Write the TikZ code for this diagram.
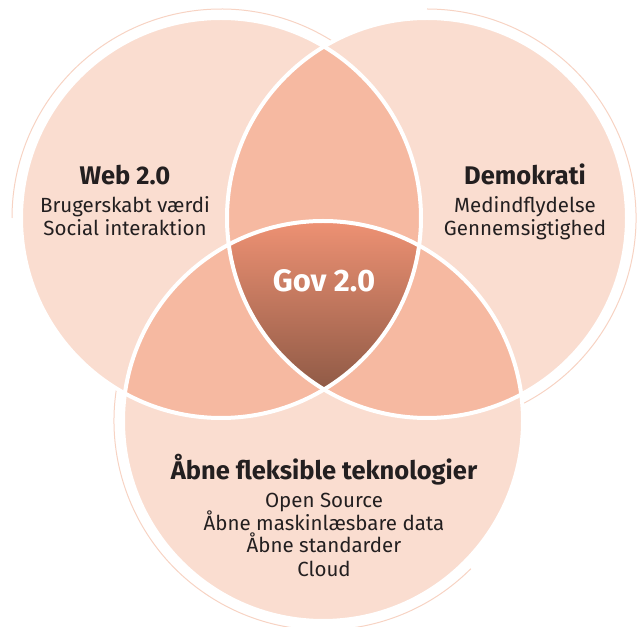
\documentclass[tikz,border=0pt]{standalone}
\usepackage{fontspec}
\setmainfont{Fira Sans}
\definecolor{lysfersken}{HTML}{FADDD0}
\definecolor{mellemfersken}{HTML}{F6B9A1}
\definecolor{govtop}{HTML}{EF9274}
\definecolor{govbund}{HTML}{8E5945}
\definecolor{tekst}{HTML}{231F20}
\definecolor{tyndring}{HTML}{F7D3C3}
\tikzset{
  overskrift/.style={font=\fontsize{25.5}{28}\selectfont\bfseries, text=tekst, anchor=base, inner sep=0pt},
  brodtekst/.style={font=\fontsize{20.5}{23}\selectfont, text=tekst, anchor=base, inner sep=0pt},
  hvidkant/.style={draw=white, line width=4pt},
  tyndbue/.style={draw=tyndring, line width=1pt},
}
\begin{document}
\begin{tikzpicture}[x=1pt,y=1pt]
  \useasboundingbox (0,0) rectangle (638,627);
  % centre of the three circles
  \coordinate (web) at (221,409);
  \coordinate (demo) at (427,409);
  \coordinate (aab) at (323,206);
  % thin outer arcs
  \draw [tyndbue] (web) ++(50:209pt) arc[start angle=50, end angle=180, radius=209pt];
  \draw [tyndbue] (demo) ++(-70:209pt) arc[start angle=-70, end angle=90, radius=209pt];
  \draw [tyndbue] (aab) ++(150:209pt) arc[start angle=150, end angle=315, radius=209pt];
  % circles
  \fill [lysfersken] (web) circle[radius=200pt];
  \fill [lysfersken] (demo) circle[radius=200pt];
  \fill [lysfersken] (aab) circle[radius=200pt];
  % overlaps of two
  \begin{scope}
    \clip (web) circle[radius=200pt];
    \fill [mellemfersken] (demo) circle[radius=200pt];
    \fill [mellemfersken] (aab) circle[radius=200pt];
  \end{scope}
  \begin{scope}
    \clip (demo) circle[radius=200pt];
    \fill [mellemfersken] (aab) circle[radius=200pt];
  \end{scope}
  % overlap of all three
  \begin{scope}
    \clip (web) circle[radius=200pt];
    \clip (demo) circle[radius=200pt];
    \clip (aab) circle[radius=200pt];
    \shade [top color=govtop, bottom color=govbund] (200,235) rectangle (450,408);
  \end{scope}
  % white edges
  \draw [hvidkant] (web) circle[radius=200pt];
  \draw [hvidkant] (demo) circle[radius=200pt];
  \draw [hvidkant] (aab) circle[radius=200pt];
  % texts
  \node [overskrift] (webtitel) at (125,442) {Web 2.0};
  \node [brodtekst] (web1) at (125,414) {Brugerskabt værdi};
  \node [brodtekst] (web2) at (125,391) {Social interaktion};
  \node [overskrift] (demotitel) at (525,442) {Demokrati};
  \node [brodtekst] (demo1) at (525,414) {Medindflydelse};
  \node [brodtekst] (demo2) at (525,391) {Gennemsigtighed};
  \node [overskrift, font=\fontsize{31}{34}\selectfont\bfseries, text=white] (gov) at (324,335) {Gov 2.0};
  \node [overskrift] (aabtitel) at (324,147) {Åbne fleksible teknologier};
  \node [brodtekst] (aab1) at (324,119) {Open Source};
  \node [brodtekst] (aab2) at (324,96) {Åbne maskinlæsbare data};
  \node [brodtekst] (aab3) at (324,74) {Åbne standarder};
  \node [brodtekst] (aab4) at (324,50) {Cloud};
\end{tikzpicture}
\end{document}
